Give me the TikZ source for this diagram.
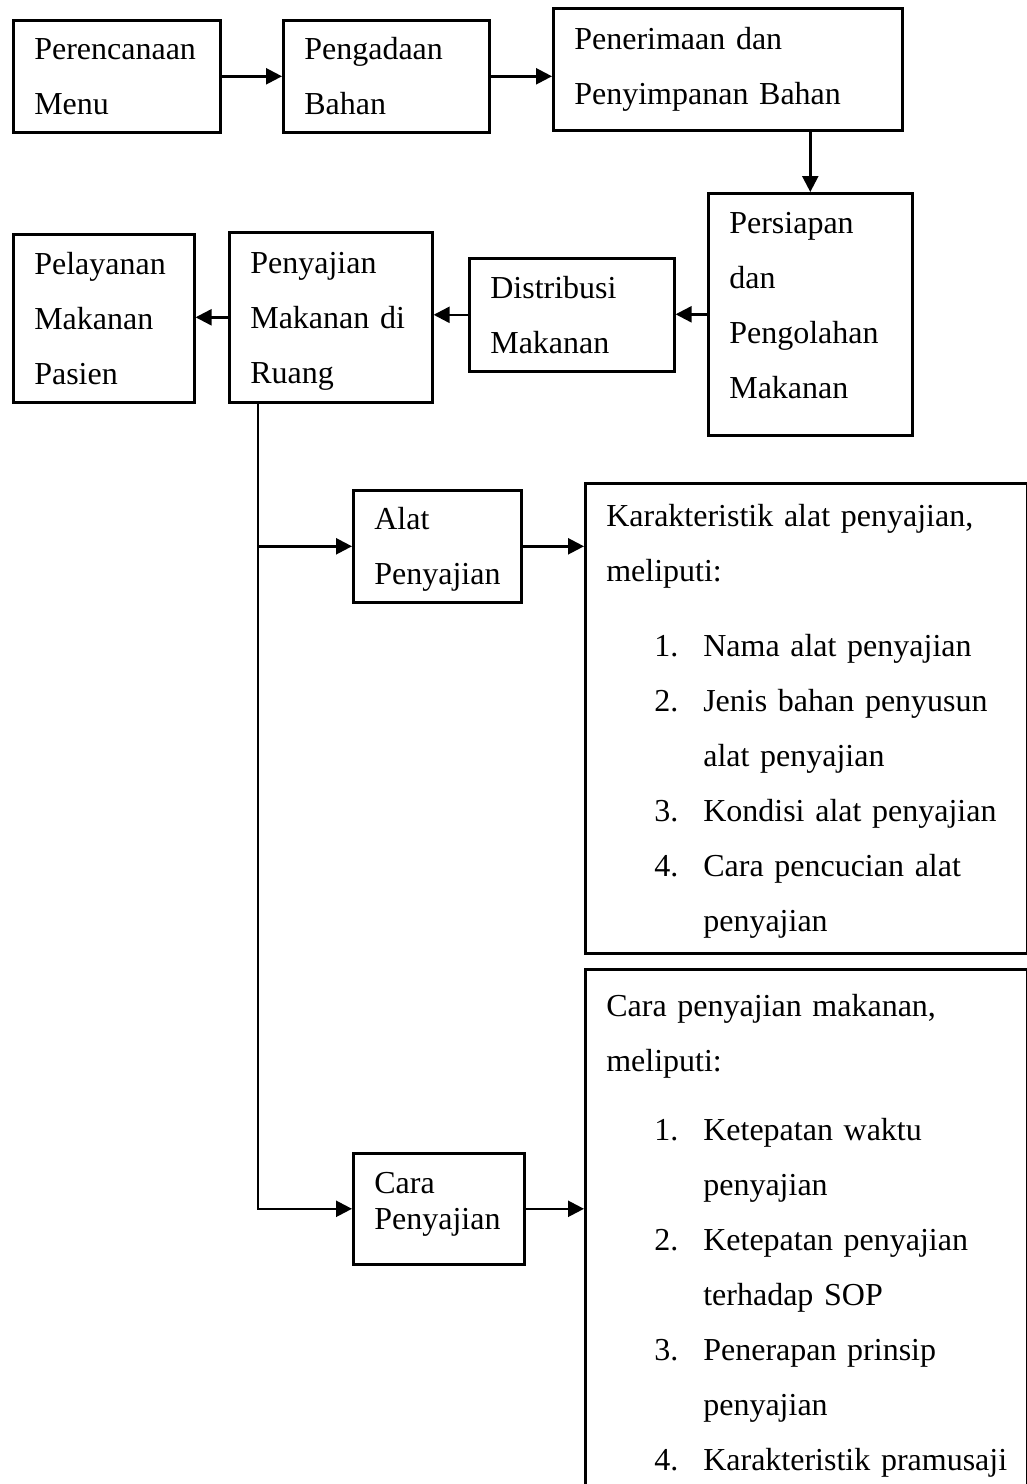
\documentclass[tikz,border=0pt]{standalone}
\usepackage{fontspec}
\setmainfont{Liberation Serif}
\usetikzlibrary{arrows.meta, calc, positioning}
\newcommand{\boxfont}{\fontsize{16}{27.5}\selectfont}
\newcommand{\tailpad}[1]{\rule[-#1]{0pt}{#1}}
\newcommand{\numitem}[1]{\hspace*{24pt}\makebox[24.5pt][l]{#1}}
\newcommand{\itemcont}{\hspace*{48.5pt}}
\tikzset{box/.style={draw, line width=1.3pt, anchor=north west, align=left, inner xsep=10.5pt, inner ysep=0pt, font=\boxfont, execute at begin node=\strut, execute at end node=\strut}}
\tikzset{flow/.style={line width=1.2pt, -{Triangle[length=8pt, width=8pt]}}}
\tikzset{trunk/.style={line width=0.6pt}}

\begin{document}
\begin{tikzpicture}[x=0.5pt, y=-0.5pt]
            \clip (0, 0) rectangle (1027, 1484);

            \node [box, text width=82.5pt, minimum height=56pt] (Fmenu) at (12, 19) {Perencanaan\\Menu};
            \node [box, text width=82pt, minimum height=56pt] (Fadaan) at (282, 19) {Pengadaan\\Bahan};
            \node [box, text width=153.5pt, minimum height=61pt] (Fterima) at (552, 7) {Penerimaan dan\\Penyimpanan Bahan\tailpad{11.75pt}};
            \node [box, text width=81pt, minimum height=121pt] (Folah) at (707, 192) {Persiapan\\dan\\Pengolahan\\Makanan\tailpad{17.75pt}};
            \node [box, text width=81.5pt, minimum height=56.5pt] (Fdistri) at (468, 257) {Distribusi\\Makanan};
            \node [box, text width=80.5pt, minimum height=85pt] (Fsaji) at (228, 231) {Penyajian\\Makanan di\\Ruang};
            \node [box, text width=69.5pt, minimum height=84pt] (Flayan) at (12, 233) {Pelayanan\\Makanan\\Pasien};

            \node [box, text width=63pt, minimum height=56pt] (Galat) at (352, 489) {Alat\\Penyajian};
            \node [box, text width=64.5pt, minimum height=55.5pt] (Gcara) at (352, 1152) {Cara\\[-9.5pt]Penyajian\tailpad{16.75pt}};

            \node [box, text width=200pt, minimum height=235pt] (Halat) at (584, 482) {Karakteristik alat penyajian,\\meliputi:\\[10pt]\numitem{1.}Nama alat penyajian\\\numitem{2.}Jenis bahan penyusun\\\itemcont alat penyajian\\\numitem{3.}Kondisi alat penyajian\\\numitem{4.}Cara pencucian alat\\\itemcont penyajian};
            \node [box, text width=200pt, minimum height=263.5pt] (Hcara) at (584, 968) {Cara penyajian makanan,\\meliputi:\\[7pt]\numitem{1.}Ketepatan waktu\\\itemcont penyajian\\\numitem{2.}Ketepatan penyajian\\\itemcont terhadap SOP\\\numitem{3.}Penerapan prinsip\\\itemcont penyajian\\\numitem{4.}Karakteristik~pramusaji};

            \draw [flow] (Fmenu.east) -- (Fmenu.east -| Fadaan.west);
            \draw [flow] (Fadaan.east) -- (Fadaan.east -| Fterima.west);
            \draw [flow] (Fterima.south -| Folah.north) -- (Folah.north);
            \draw [flow] (Folah.west) -- (Folah.west -| Fdistri.east);
            \draw [flow] (Fdistri.west) -- (Fdistri.west -| Fsaji.east);
            \draw [flow] (Fsaji.west) -- (Fsaji.west -| Flayan.east);

            \coordinate (trunkend) at (258, 1210);
            \draw [trunk] (Fsaji.south -| trunkend) -- (trunkend);
            \draw [flow] (Galat.west -| trunkend) -- (Galat.west);
            \draw [flow] (Gcara.west -| trunkend) -- (Gcara.west);

            \draw [flow] (Galat.east) -- (Galat.east -| Halat.west);
            \draw [flow] (Gcara.east) -- (Gcara.east -| Hcara.west);
        \end{tikzpicture}
\end{document}
